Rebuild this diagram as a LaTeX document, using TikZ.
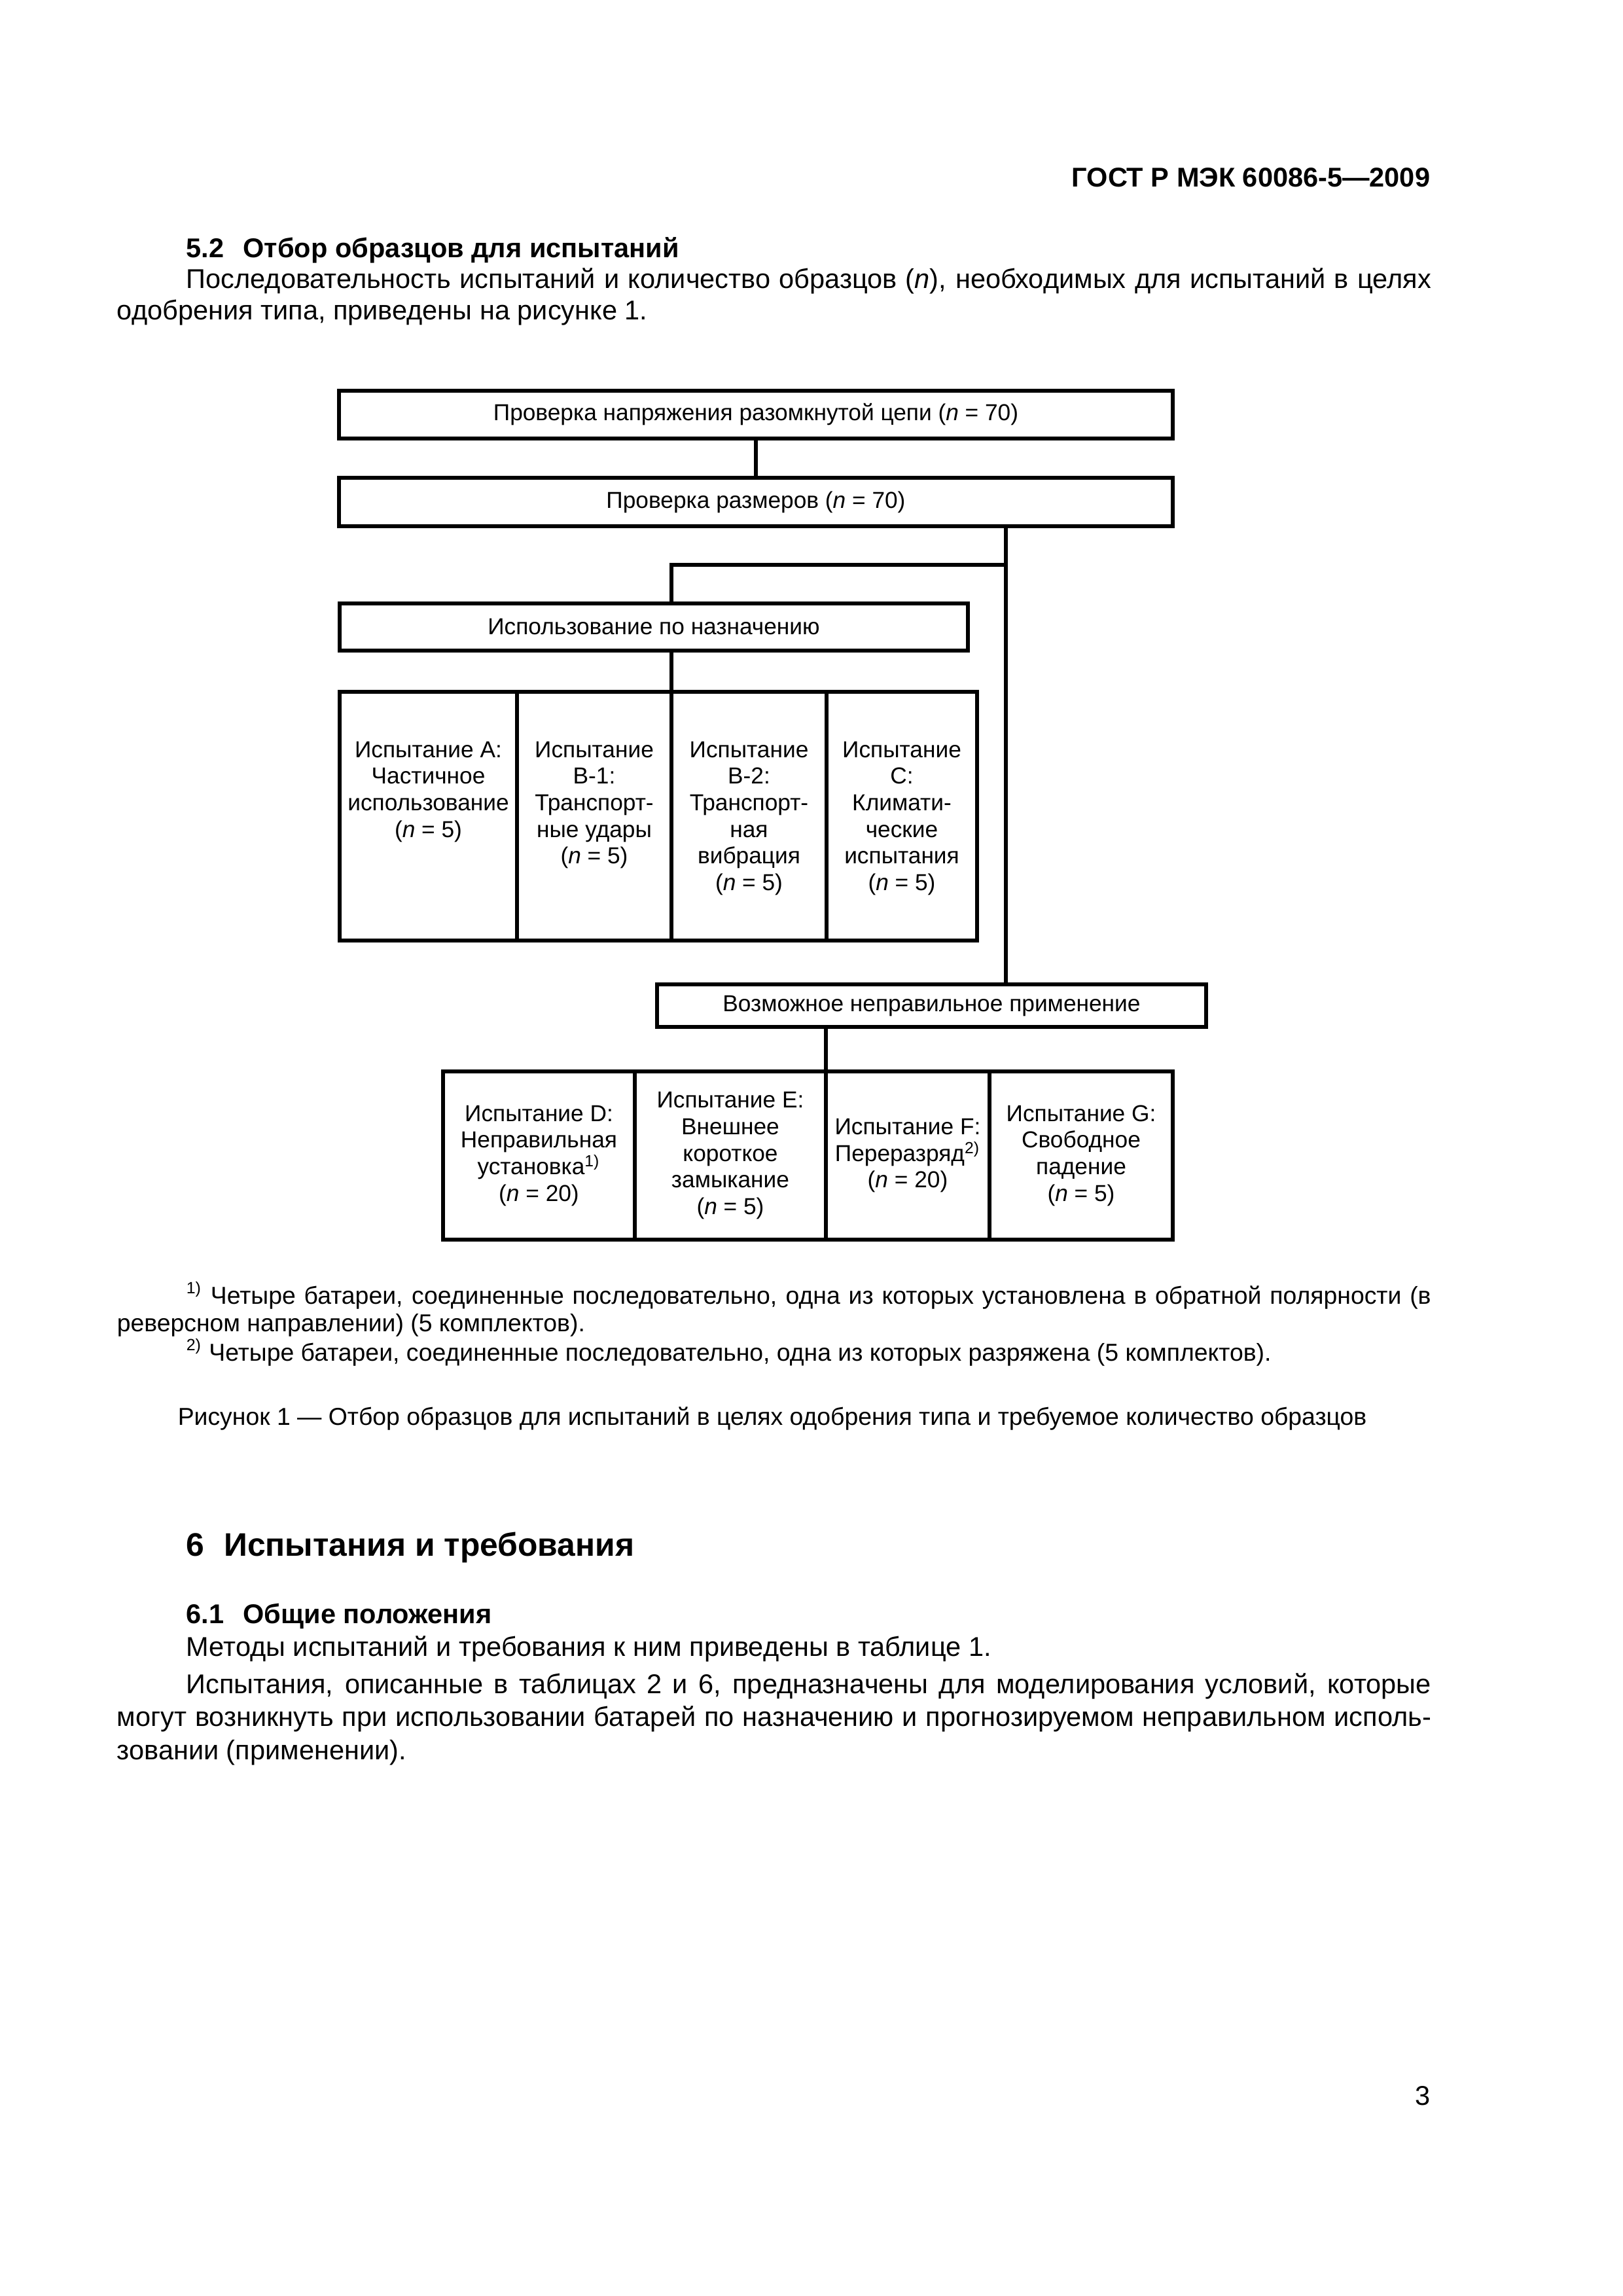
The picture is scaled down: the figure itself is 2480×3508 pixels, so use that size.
\documentclass[tikz,border=0pt]{standalone}
\usepackage{fontspec}
\setmainfont{Liberation Sans}
\usetikzlibrary{positioning}

% one pixel of the A4 page at 300 dpi
\newdimen\px \px=0.24093pt

\tikzset{
  box/.style={draw, line width=1.4pt, inner sep=0pt, outer sep=0pt, align=center,
    font=\fontsize{8.5}{9.8}\selectfont},
  link/.style={line width=1.4pt},
  txt/.style={inner sep=0pt, font=\fontsize{10}{12}\selectfont},
  txtb/.style={inner sep=0pt, font=\fontsize{10}{12}\selectfont\bfseries},
  note/.style={inner sep=0pt, font=\fontsize{9}{11}\selectfont},
  sect/.style={inner sep=0pt, font=\fontsize{12}{14}\selectfont\bfseries}
}
\newcommand{\upcell}[2]{\parbox[c][380\px][t]{#1\px}{\centering\vspace*{76\px}#2}}
\newcommand{\fullline}[2]{\makebox[#1\px][s]{#2}}

\begin{document}
\begin{tikzpicture}[x=\px, y=-\px]
        % Page
        \fill[white] (0,0) rectangle (2480,3508);
        \useasboundingbox (0,0) rectangle (2480,3508);

        % Header and text above the figure
        \node[txtb, anchor=base east] (gost) at (2186,285) {ГОСТ Р МЭК 60086-5—2009};
        \node[txtb, anchor=base west] (h52) at (284,393) {5.2\hspace{0.7em}Отбор образцов для испытаний};
        \node[txt, anchor=base west] (p1a) at (284,440) {\fullline{1902}{Последовательность испытаний и количество образцов (\textit{n}), необходимых для испытаний в целях}};
        \node[txt, anchor=base west] (p1b) at (178,488) {одобрения типа, приведены на рисунке 1.};

        % Upper boxes
        \node[box, minimum width=1274*\px, minimum height=73*\px] (ocv) at (1155,633.5) {Проверка напряжения разомкнутой цепи (\textit{n} = 70)};
        \node[box, minimum width=1274*\px, minimum height=74*\px] (dim) at (1155,767) {Проверка размеров (\textit{n} = 70)};
        \node[box, minimum width=960*\px, minimum height=72*\px] (use) at (999,958) {Использование по назначению};

        % Intended use tests
        \node[box] (a) at (654.5,1247) {\upcell{271}{Испытание A:\\Частичное\\использование\\(\textit{n} = 5)}};
        \node[box] (b1) at (908,1247) {\upcell{236}{Испытание\\B-1:\\Транспорт-\\ные удары\\(\textit{n} = 5)}};
        \node[box] (b2) at (1144.5,1247) {\upcell{237}{Испытание\\B-2:\\Транспорт-\\ная\\вибрация\\(\textit{n} = 5)}};
        \node[box] (c) at (1378,1247) {\upcell{230}{Испытание\\C:\\Климати-\\ческие\\испытания\\(\textit{n} = 5)}};

        % Misuse box and tests
        \node[box, minimum width=839*\px, minimum height=65*\px] (misuse) at (1423.5,1536.5) {Возможное неправильное применение};
        \node[box, minimum width=293*\px, minimum height=257*\px] (d) at (823.5,1765.5) {Испытание D:\\Неправильная\\установка\textsuperscript{1)}\\(\textit{n} = 20)};
        \node[box, minimum width=292*\px, minimum height=257*\px] (e) at (1116,1765.5) {Испытание E:\\Внешнее\\короткое\\замыкание\\(\textit{n} = 5)};
        \node[box, minimum width=250*\px, minimum height=257*\px] (f) at (1387,1765.5) {Испытание F:\\Переразряд\textsuperscript{2)}\\(\textit{n} = 20)};
        \node[box, minimum width=280*\px, minimum height=257*\px] (g) at (1652,1765.5) {Испытание G:\\Свободное\\падение\\(\textit{n} = 5)};

        % Connectors
        \coordinate (trunk) at (1537,863);
        \draw[link] (ocv.south) -- (dim.north);
        \draw[link] (dim.south -| trunk) -- (misuse.north -| trunk);
        \draw[link] (trunk) -| (use.north -| b2.west);
        \draw[link] (use.south -| b2.west) -- (b2.north west);
        \draw[link] (misuse.south -| f.west) -- (f.north west);

        % Footnotes and caption
        \node[note, anchor=base west] (fn1a) at (284,1992) {\fullline{1902}{\textsuperscript{1)} Четыре батареи, соединенные последовательно, одна из которых установлена в обратной полярности (в}};
        \node[note, anchor=base west] (fn1b) at (178,2034) {реверсном направлении) (5 комплектов).};
        \node[note, anchor=base west] (fn2) at (284,2079) {\textsuperscript{2)} Четыре батареи, соединенные последовательно, одна из которых разряжена (5 комплектов).};
        \node[note, anchor=base] (cap) at (1180,2177) {Рисунок 1 — Отбор образцов для испытаний в целях одобрения типа и требуемое количество образцов};

        % Section 6
        \node[sect, anchor=base west] (s6) at (284,2377) {6\hspace{0.6em}Испытания и требования};
        \node[txtb, anchor=base west] (s61) at (284,2480) {6.1\hspace{0.7em}Общие положения};
        \node[txt, anchor=base west] (p2) at (284,2530) {Методы испытаний и требования к ним приведены в таблице 1.};
        \node[txt, anchor=base west] (p3a) at (284,2587) {\fullline{1902}{Испытания, описанные в таблицах 2 и 6, предназначены для моделирования условий, которые}};
        \node[txt, anchor=base west] (p3b) at (178,2637) {\fullline{2008}{могут возникнуть при использовании батарей по назначению и прогнозируемом неправильном исполь-}};
        \node[txt, anchor=base west] (p3c) at (178,2688) {зовании (применении).};

        % Page number
        \node[txt, anchor=base east] (pg) at (2186,3216) {3};
\end{tikzpicture}
\end{document}
